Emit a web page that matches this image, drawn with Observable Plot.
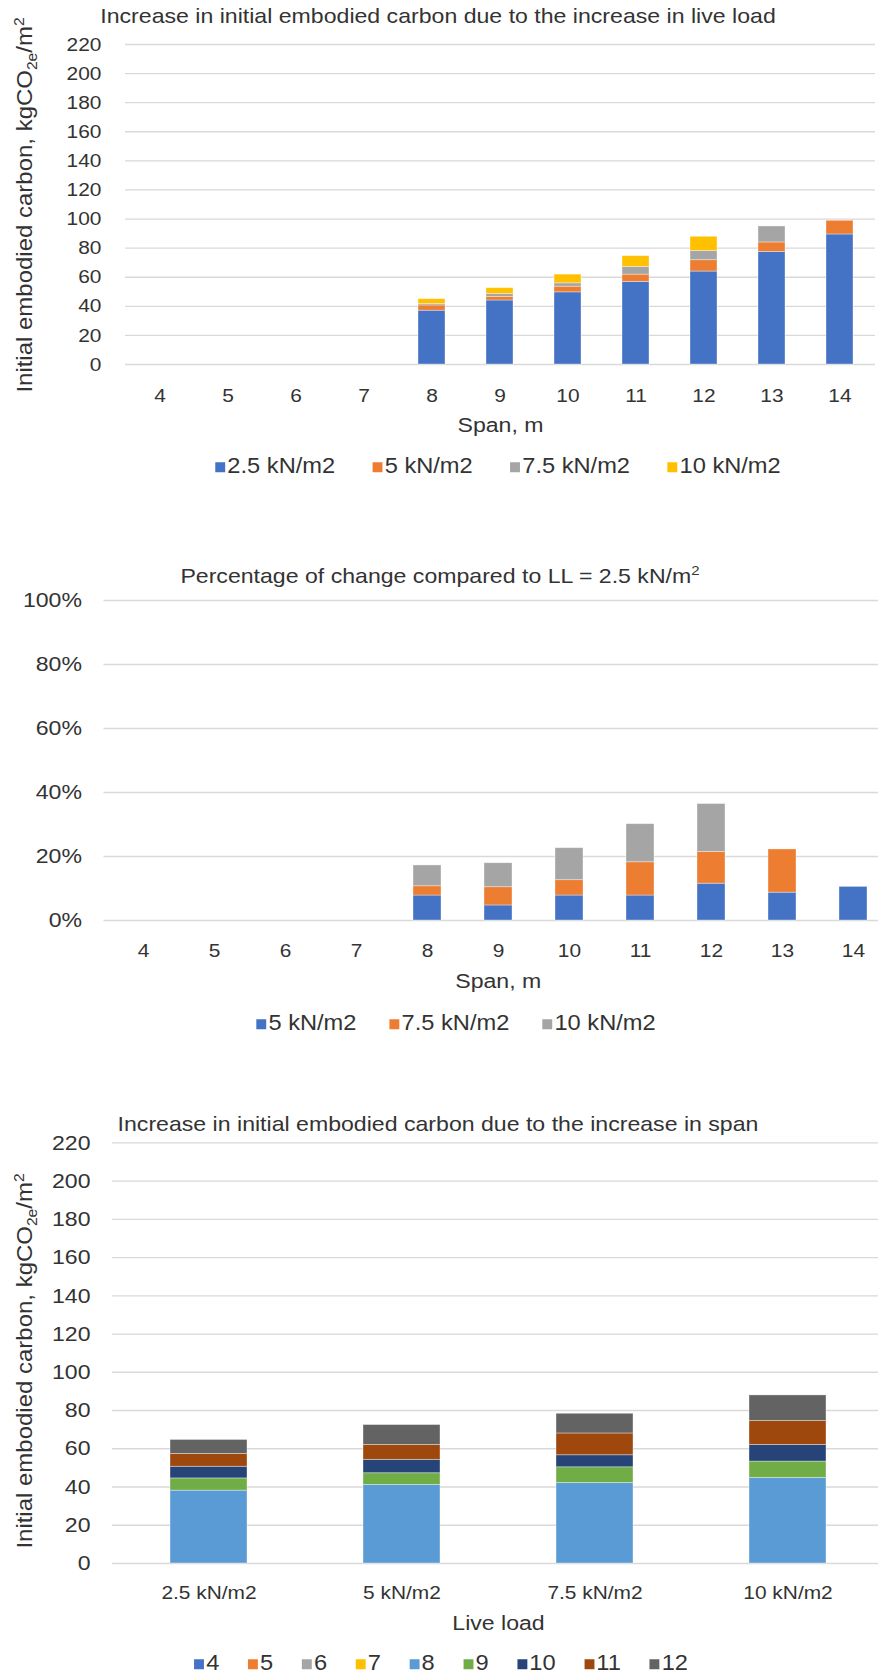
<!DOCTYPE html>
<html><head><meta charset="utf-8">
<script src="https://cdn.jsdelivr.net/npm/d3@7"></script>
<script src="https://cdn.jsdelivr.net/npm/@observablehq/plot@0.6"></script>
<style>
html,body{margin:0;padding:0;background:#fff;overflow:hidden}
#root{position:relative;width:878px;height:1677px;overflow:hidden;font-family:"Liberation Sans",Arial,sans-serif;color:#333}
.abs{position:absolute;white-space:nowrap;line-height:1}
.title{font-size:21px;transform:translate(-50%,-50%) scaleX(1.1)}
.ylab{font-size:22px;transform:translate(-50%,-50%) rotate(-90deg) scaleX(1.09)}
.legend{display:flex;align-items:center;font-size:21.5px;transform:translate(-50%,-50%) scaleX(1.1)}
.sw{display:inline-block;width:9px;height:10px;margin-right:2px}
.item{display:flex;align-items:center}
sub,sup{font-size:0.65em;line-height:0}
svg.chart{position:absolute;left:0}
</style>
</head><body><div id="root"></div>
<script>
// ---------- data ----------
const spans = ["4","5","6","7","8","9","10","11","12","13","14"];
// chart 1: increase by live load (kgCO2e/m2), stacked increments
const loads1 = ["2.5 kN/m2","5 kN/m2","7.5 kN/m2","10 kN/m2"];
const colors1 = ["#4472C4","#ED7D31","#A5A5A5","#FFC000"];
const ll25 = [0,0,0,0,37.0,44.0,49.6,56.8,63.9,77.4,89.4];
const ll5  = [0,0,0,0,3.6,2.5,3.9,5.0,7.8,6.5,9.4];
const ll75 = [0,0,0,0,1.0,2.0,2.3,5.3,6.4,11.0,0];
const ll10 = [0,0,0,0,3.3,4.0,6.0,7.4,9.7,0,0];
const ticksCarbon = [0,20,40,60,80,100,120,140,160,180,200,220];

// chart 2: percentage of change compared to LL = 2.5
const loads2 = ["5 kN/m2","7.5 kN/m2","10 kN/m2"];
const colors2 = ["#4472C4","#ED7D31","#A5A5A5"];
const pct5  = [0,0,0,0,7.8,4.7,7.8,7.8,11.5,8.7,10.5];
const pct75 = [0,0,0,0,2.9,5.7,4.8,10.4,9.9,13.5,0];
const pct10 = [0,0,0,0,6.5,7.5,10.0,11.9,15.0,0,0];
const ticksPct = [0,20,40,60,80,100];

// chart 3: increase by span, grouped by live load
const loads3 = ["2.5 kN/m2","5 kN/m2","7.5 kN/m2","10 kN/m2"];
const spans3 = ["4","5","6","7","8","9","10","11","12"];
const colors3 = ["#4472C4","#ED7D31","#A5A5A5","#FFC000","#5B9BD5","#70AD47","#264478","#9E480E","#636363"];
const sp4  = [0,0,0,0];
const sp5  = [0,0,0,0];
const sp6  = [0,0,0,0];
const sp7  = [0,0,0,0];
const sp8  = [38.1,41.1,42.1,44.8];
const sp9  = [6.4,6.1,8.2,8.5];
const sp10 = [6.1,7.0,6.3,8.7];
const sp11 = [6.7,7.8,11.4,12.5];
const sp12 = [7.3,10.4,10.3,13.4];

// ---------- helpers ----------
const FONT = '"Liberation Sans", Arial, sans-serif';
const root = document.getElementById("root");

function tidy(cats, series, arrays){
  const out = [];
  series.forEach((s,j)=>arrays[j].forEach((v,i)=>{ if (v>0) out.push({cat:cats[i], series:s, value:v}); }));
  return out;
}

function stretch(svg, sx){
  svg.querySelectorAll('g[aria-label$="tick label"] text, g[aria-label="text"] text').forEach(t=>{
    const tr = t.getAttribute("transform") || "";
    t.setAttribute("transform", tr + ` scale(${sx},1)`);
  });
}

function chart(o){
  const svg = Plot.plot({
    width: 878, height: o.height,
    marginLeft: o.ml, marginRight: o.mr, marginTop: o.mt, marginBottom: o.mb,
    style: {fontFamily: FONT, fontSize: "19px", color: "#333", background: "transparent", overflow: "visible"},
    x: {type: "band", domain: o.cats, paddingInner: 0.6, paddingOuter: 0.3, align: 0.5, label: null},
    y: {domain: o.yDomain, label: null},
    color: {domain: o.series, range: o.colors},
    marks: [
      Plot.gridY(o.yTicks, {stroke: "#d9d9d9", strokeOpacity: 1, strokeWidth: 1.3}),
      Plot.barY(o.data, {x: "cat", y: "value", fill: "series", stroke: "#ffffff", strokeOpacity: 0.45, strokeWidth: 0.8}),
      Plot.axisY(o.yTicks, {tickSize: 0, tickPadding: o.yPad, tickFormat: o.yFormat, label: null, fontSize: o.yFont}),
      Plot.axisX({tickSize: 0, tickPadding: o.xPad, label: null}),
      Plot.text([o.xlabel], {text: d => d, frameAnchor: "bottom", dy: o.xlabelDy, fontSize: 21})
    ]
  });
  svg.classList.add("chart");
  svg.style.top = o.top + "px";
  stretch(svg, 1.1);
  root.appendChild(svg);
}

function html(cls, x, y, content){
  const d = document.createElement("div");
  d.className = "abs " + cls;
  d.style.left = x + "px"; d.style.top = y + "px";
  d.innerHTML = content;
  root.appendChild(d);
}

function legend(x, y, series, colors, gap){
  const d = document.createElement("div");
  d.className = "abs legend";
  d.style.left = x + "px"; d.style.top = y + "px";
  series.forEach((s,i)=>{
    const it = document.createElement("span"); it.className = "item";
    if (i > 0) it.style.marginLeft = gap + "px";
    const sw = document.createElement("span"); sw.className = "sw"; sw.style.background = colors[i];
    const tx = document.createElement("span"); tx.textContent = s;
    it.appendChild(sw); it.appendChild(tx); d.appendChild(it);
  });
  root.appendChild(d);
}

// ---------- chart 1 ----------
chart({
  top: 0, height: 450, ml: 125, mr: 3, mt: 44, mb: 86,
  cats: spans, yDomain: [0,220], yTicks: ticksCarbon, yFormat: d => d, yFont: 19,
  series: loads1, colors: colors1,
  data: tidy(spans, loads1, [ll25, ll5, ll75, ll10]),
  yPad: 24, xPad: 24, xlabel: "Span, m", xlabelDy: 67
});
html("title", 438, 15, "Increase in initial embodied carbon due to the increase in live load");
html("ylab", 25, 205, "Initial embodied carbon, kgCO<sub>2e</sub>/m<sup>2</sup>");
legend(498, 467, loads1, colors1, 34);

// ---------- chart 2 ----------
chart({
  top: 560, height: 450, ml: 103.5, mr: -14, mt: 40, mb: 90,
  cats: spans, yDomain: [0,100], yTicks: ticksPct, yFormat: d => d + "%", yFont: 21,
  series: loads2, colors: colors2,
  data: tidy(spans, loads2, [pct5, pct75, pct10]),
  yPad: 22, xPad: 23, xlabel: "Span, m", xlabelDy: 67
});
html("title", 440, 575, "Percentage of change compared to LL = 2.5 kN/m<sup>2</sup>");
legend(456, 1024, loads2, colors2, 30);

// ---------- chart 3 ----------
chart({
  top: 1100, height: 577, ml: 112, mr: -6, mt: 42.3, mb: 114,
  cats: loads3, yDomain: [0,220], yTicks: ticksCarbon, yFormat: d => d, yFont: 21,
  series: spans3, colors: colors3,
  data: tidy(loads3, spans3, [sp4, sp5, sp6, sp7, sp8, sp9, sp10, sp11, sp12]),
  yPad: 22, xPad: 22, xlabel: "Live load", xlabelDy: 66
});
html("title", 438, 1123, "Increase in initial embodied carbon due to the increase in span");
html("ylab", 25, 1361, "Initial embodied carbon, kgCO<sub>2e</sub>/m<sup>2</sup>");
legend(441, 1664, spans3, colors3, 26);
</script>
</body></html>
